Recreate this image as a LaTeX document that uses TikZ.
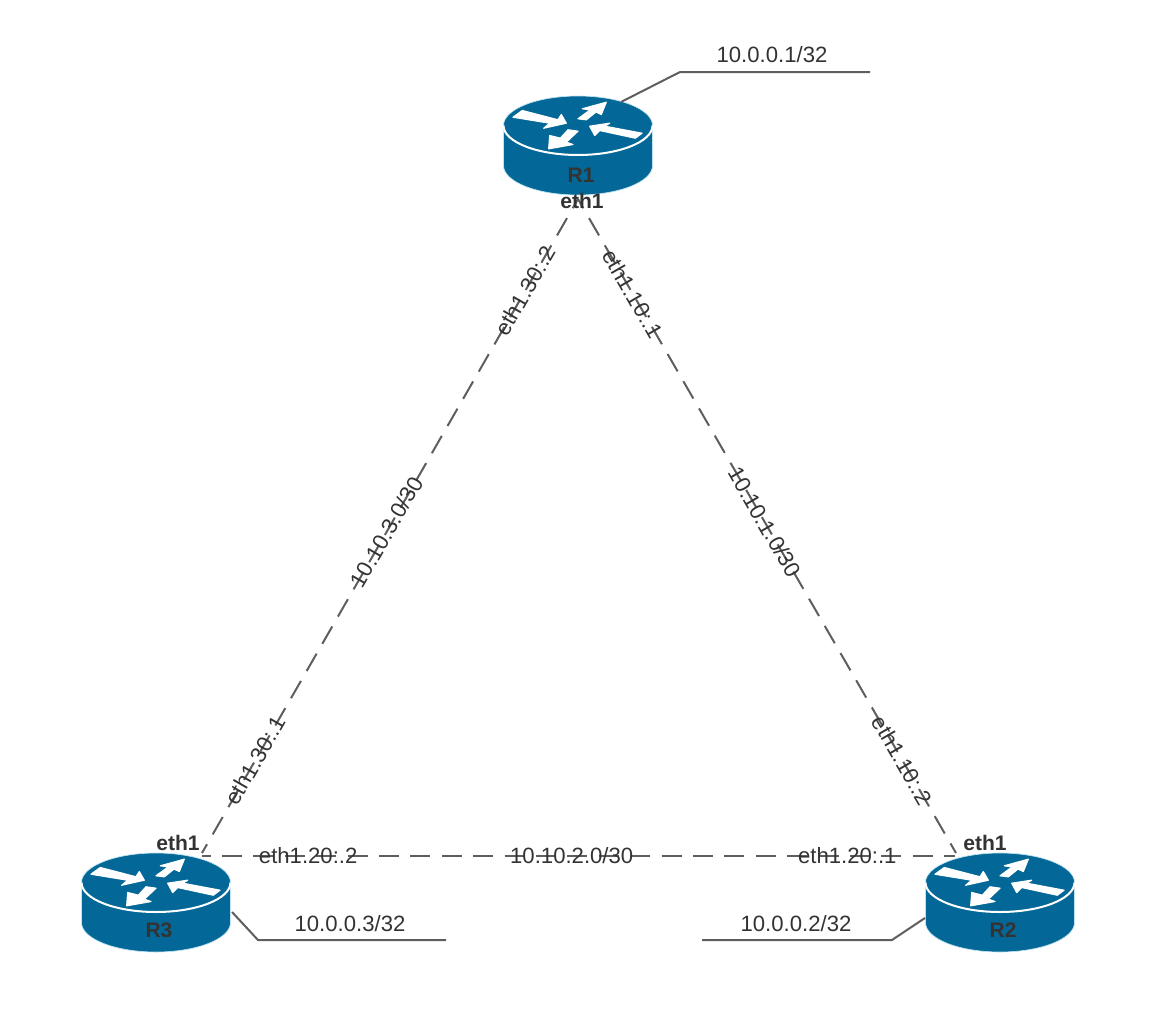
\documentclass[tikz,border=0pt]{standalone}
\usepackage{fontspec}
\setmainfont{Liberation Sans}
\definecolor{routerblue}{HTML}{036897}
\definecolor{routeredge}{HTML}{BFE3F0}
\definecolor{wire}{HTML}{5E5E5E}
\definecolor{lbl}{HTML}{333333}
\tikzset{
  routericon/.pic={
    \filldraw[fill=routerblue, draw=routeredge, line width=0.5pt]
      (-74.5,-20) -- (-74.5,20) arc[start angle=180, end angle=0, x radius=74.5, y radius=29.5]
      -- (74.5,-20) arc[start angle=0, end angle=-180, x radius=74.5, y radius=29.5] -- cycle;
    \draw[white, line width=1.5pt] (-74.5,-20) arc[start angle=180, end angle=0, x radius=74.5, y radius=29.5];
    \begin{scope}[shift={(0,-20)}, every path/.style={fill=white, draw=white, line width=0.9pt, line join=round}]
      \path (-65,-8.3) -- (-55.7,-15) -- (-20,-5.7) -- (-16.7,-11) -- (-11.7,-2.3) -- (-34.3,2.7) -- (-28.3,-2.3) -- cycle;
      \path (0,-6.7) -- (12.3,-15.7) -- (4.3,-16.7) -- (28.3,-23.3) -- (23.3,-11) -- (18,-13.5) -- (8.3,-5.7) -- cycle;
      \path (11.7,0.7) -- (31.7,-2.3) -- (26.7,0.7) -- (64,7.7) -- (57.3,12.7) -- (21.7,5) -- (16.7,10) -- cycle;
      \path (-29.3,23.3) -- (-28.3,10) -- (-17.7,12.7) -- (-10,4.3) -- (0,5.7) -- (-11.7,16.7) -- (-5,19) -- cycle;
    \end{scope}
  },
  namelbl/.style={text=lbl, inner sep=0pt, font=\fontsize{15.8}{19}\selectfont\bfseries},
  txtlbl/.style={text=lbl, inner sep=0pt, font=\fontsize{16.6}{20}\selectfont},
  linklbl/.style={txtlbl, sloped},
  link/.style={wire, line width=1.5pt, dash pattern=on 15pt off 8.55pt, dash phase=7pt},
  loopline/.style={wire, line width=1.5pt}
}
\begin{document}
\begin{tikzpicture}[x=0.75pt, y=-0.75pt]
      \useasboundingbox (0,0) rectangle (1164,1017);
      \pic at (578,145.5) {routericon};
      \pic at (156,902.5) {routericon};
      \pic at (1000,902.5) {routericon};
      \coordinate (r1port) at (578,199);
      \coordinate (r2port) at (956,853);
      \coordinate (r3port) at (202,853);
      \coordinate (r2side) at (955,856);
      \coordinate (r3side) at (202,856);
      \draw[link] (r1port) -- node[linklbl, pos=0.14] {eth1.30:.2} node[linklbl, pos=0.509] {10.10.3.0/30} node[linklbl, pos=0.858] {eth1.30:.1} (r3port);
      \draw[link] (r1port) -- node[linklbl, pos=0.145] {eth1.10:.1} node[linklbl, pos=0.494] {10.10.1.0/30} node[linklbl, pos=0.858] {eth1.10:.2} (r2port);
      \draw[link, dash phase=8.55pt] (r3side) -- node[linklbl, pos=0.141] {eth1.20:.2} node[linklbl, pos=0.491] {10.10.2.0/30} node[linklbl, pos=0.857] {eth1.20:.1} (r2side);
      \node[namelbl] (r1) at (581,175) {R1};
      \node[namelbl] (r2) at (1003,930) {R2};
      \node[namelbl] (r3) at (159,930) {R3};
      \node[namelbl] (r1eth) at (582,201) {eth1};
      \node[namelbl] (r2eth) at (985,843) {eth1};
      \node[namelbl] (r3eth) at (178,843) {eth1};
      \coordinate (lo1a) at (621,102);
      \coordinate (lo1b) at (680,72);
      \coordinate (lo1c) at (870,72);
      \coordinate (lo2a) at (925,918);
      \coordinate (lo2b) at (892,940);
      \coordinate (lo2c) at (702,940);
      \coordinate (lo3a) at (232,912);
      \coordinate (lo3b) at (258,940);
      \coordinate (lo3c) at (446,940);
      \draw[loopline] (lo1a) -- (lo1b) -- (lo1c);
      \draw[loopline] (lo2a) -- (lo2b) -- (lo2c);
      \draw[loopline] (lo3a) -- (lo3b) -- (lo3c);
      \node[txtlbl] (lo1) at (772,55) {10.0.0.1/32};
      \node[txtlbl] (lo2) at (796,924) {10.0.0.2/32};
      \node[txtlbl] (lo3) at (350,924) {10.0.0.3/32};
\end{tikzpicture}
\end{document}
